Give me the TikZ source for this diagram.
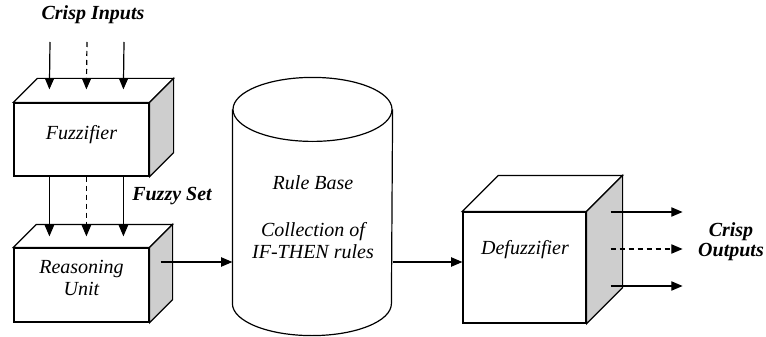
\documentclass[tikz,border=0pt]{standalone}
\usepackage{fontspec}
\setmainfont{Liberation Serif}
\usetikzlibrary{arrows.meta,calc}
\definecolor{sideshade}{RGB}{206,206,206}
\begin{document}
\begin{tikzpicture}[x=0.75pt,y=0.75pt,line width=0.9pt,
  boxfront/.style={draw, fill=white, inner sep=0pt},
  boxtop/.style={draw, fill=white, line join=miter},
  boxside/.style={draw, fill=sideshade, line join=miter},
  boxtext/.style={font=\fontsize{15}{16.5}\selectfont\itshape, align=center, inner sep=0pt},
  heading/.style={font=\fontsize{15}{15}\selectfont\bfseries\itshape, align=center, inner sep=0pt},
  flow/.style={-{Triangle[length=8.5pt,width=7pt]}},
  dashflow/.style={flow, dash pattern=on 3.75pt off 3pt},
]
\useasboundingbox (0,0) rectangle (766,336);

% ---- Fuzzifier block ----
\node[boxfront, minimum width=101.25pt, minimum height=54.75pt] (fuz) at (81.5,196.5) {};
\draw[boxtop] (fuz.north west) -- ++(24,24) -- ($(fuz.north east)+(24,24)$) -- (fuz.north east) -- cycle;
\draw[boxside] (fuz.north east) -- ++(24,24) -- ($(fuz.south east)+(24,24)$) -- (fuz.south east) -- cycle;
\node[boxtext] (fuztxt) at (81.5,201) {Fuzzifier};

% ---- Reasoning unit block ----
\node[boxfront, minimum width=101.25pt, minimum height=55.5pt] (reas) at (81.5,51) {};
\draw[boxtop] (reas.north west) -- ++(23,23) -- ($(reas.north east)+(23,23)$) -- (reas.north east) -- cycle;
\draw[boxside] (reas.north east) -- ++(23,23) -- ($(reas.south east)+(23,23)$) -- (reas.south east) -- cycle;
\node[boxtext] (reastxt) at (81.5,58) {Reasoning\\Unit};

% ---- Rule base cylinder ----
\node[minimum width=119.25pt, minimum height=144.75pt, inner sep=0pt] (rule) at (312.5,129.5) {};
\draw[fill=white] (rule.north west) -- (rule.south west)
  arc[start angle=180, end angle=360, x radius=59.625pt, y radius=24pt] -- (rule.north east);
\draw[fill=white] (rule.north) ellipse[x radius=59.625pt, y radius=24pt];
\node[boxtext] (ruletxt) at (313,119) {Rule Base\\[18.75pt]Collection of\\IF-THEN rules};

% ---- Defuzzifier block ----
\node[boxfront, minimum width=92.25pt, minimum height=83.25pt] (defuz) at (524.5,68.5) {};
\draw[boxtop] (defuz.north west) -- ++(36,36) -- ($(defuz.north east)+(36,36)$) -- (defuz.north east) -- cycle;
\draw[boxside] (defuz.north east) -- ++(36,36) -- ($(defuz.south east)+(36,36)$) -- (defuz.south east) -- cycle;
\node[boxtext] (defuztxt) at (525,86) {Defuzzifier};

% ---- Labels ----
\node[heading] (inlbl) at (93,321) {Crisp Inputs};
\node[heading] (fuzzylbl) at (172,140) {Fuzzy Set};
\node[heading] (outlbl) at (731,94) {Crisp\\Outputs};

% ---- Crisp inputs into the fuzzifier ----
\coordinate (in1) at (50,294);
\coordinate (in2) at (87,294);
\coordinate (in3) at (124,294);
\coordinate (fz1) at ($(fuz.north west)+(36,13)$);
\coordinate (fz2) at ($(fuz.north west)+(73,13)$);
\coordinate (fz3) at ($(fuz.north west)+(110,13)$);
\draw[flow] (in1) -- (fz1);
\draw[dashflow] (in2) -- (fz2);
\draw[flow] (in3) -- (fz3);

% ---- Fuzzy sets into the reasoning unit ----
\coordinate (fo1) at ($(fuz.south west)+(36,0)$);
\coordinate (fo2) at ($(fuz.south west)+(73,0)$);
\coordinate (fo3) at ($(fuz.south west)+(110,0)$);
\coordinate (ri1) at ($(reas.north west)+(36,11)$);
\coordinate (ri2) at ($(reas.north west)+(73,11)$);
\coordinate (ri3) at ($(reas.north west)+(110,11)$);
\draw[flow] (fo1) -- (ri1);
\draw[dashflow] (fo2) -- (ri2);
\draw[flow] (fo3) -- (ri3);

% ---- Reasoning unit <-> rule base -> defuzzifier ----
\coordinate (rout) at ($(reas.east)+(11,23)$);
\draw[flow] (rout) -- (rout -| rule.west);
\draw[flow] (rout -| rule.east) -- (rout -| defuz.west);

% ---- Crisp outputs ----
\coordinate (o1) at ($(defuz.east)+(24,55.5)$);
\coordinate (o2) at ($(defuz.east)+(24,18.5)$);
\coordinate (o3) at ($(defuz.east)+(24,-18.5)$);
\coordinate (e1) at ($(o1)+(72,0)$);
\coordinate (e2) at ($(o2)+(72,0)$);
\coordinate (e3) at ($(o3)+(72,0)$);
\draw[flow] (o1) -- (e1);
\draw[dashflow] (o2) -- (e2);
\draw[flow] (o3) -- (e3);
\end{tikzpicture}
\end{document}
